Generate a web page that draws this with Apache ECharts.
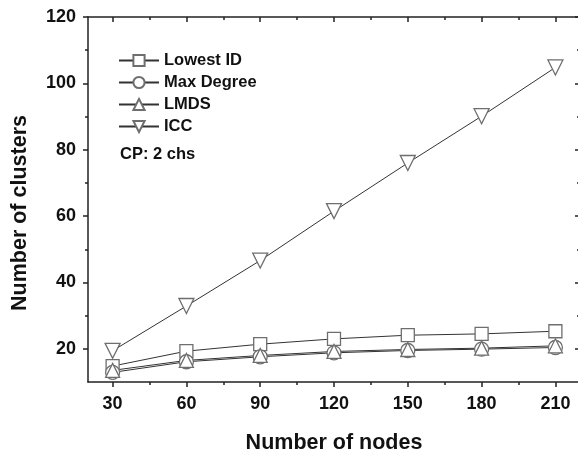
<!DOCTYPE html>
<html>
<head>
<meta charset="utf-8">
<script src="https://cdn.jsdelivr.net/npm/echarts@6/dist/echarts.min.js"></script>
<style>
  html, body { margin: 0; padding: 0; background: #fff; }
  #chart { width: 578px; height: 456px; }
</style>
</head>
<body>
<div id="chart"></div>
<script>
// Number of clusters formed versus network size, CP: 2 channels
const nodes = [30, 60, 90, 120, 150, 180, 210];
const lowestId = [14.8, 19.3, 21.4, 23.0, 24.1, 24.5, 25.3];
const maxDegree = [12.9, 16.1, 17.6, 18.8, 19.5, 19.9, 20.4];
const lmds = [13.5, 16.5, 18.0, 19.2, 19.8, 20.2, 20.9];
const icc = [19.4, 32.9, 46.6, 61.5, 76.0, 90.1, 104.8];

const xMajor = [30, 60, 90, 120, 150, 180, 210];
const xMinor = [45, 75, 105, 135, 165, 195];
const yMajor = [20, 40, 60, 80, 100, 120];
const yMinor = [30, 50, 70, 90, 110];

const X_MIN = 20, X_MAX = 220, Y_MIN = 10, Y_MAX = 120;
const FONT = 'Liberation Sans, Arial, sans-serif';
const TEXT = '#111';
const AXIS_COLOR = '#222';

function pairs(ys) { return nodes.map((x, i) => [x, ys[i]]); }

function xAx(pos, ticks, len, inside, opts) {
  return Object.assign({
    type: 'value', position: pos, min: X_MIN, max: X_MAX,
    axisLine: { show: true, onZero: false, lineStyle: { color: AXIS_COLOR, width: 1.5 } },
    axisTick: { show: true, inside: inside, length: len, customValues: ticks,
      lineStyle: { color: AXIS_COLOR, width: 1.5 } },
    axisLabel: { show: false },
    splitLine: { show: false }
  }, opts || {});
}
function yAx(pos, ticks, len, inside, opts) {
  return Object.assign({
    type: 'value', position: pos, min: Y_MIN, max: Y_MAX,
    axisLine: { show: true, onZero: false, lineStyle: { color: AXIS_COLOR, width: 1.5 } },
    axisTick: { show: true, inside: inside, length: len, customValues: ticks,
      lineStyle: { color: AXIS_COLOR, width: 1.5 } },
    axisLabel: { show: false },
    splitLine: { show: false }
  }, opts || {});
}

const markerStyle = { color: '#fff', borderColor: '#6e6e6e', borderWidth: 1.3 };
const lineStyle = { color: '#333', width: 1 };

function series(name, ys, symbol, size, rotate) {
  return {
    name: name, type: 'line', data: pairs(ys),
    xAxisIndex: 0, yAxisIndex: 0,
    symbol: symbol, symbolSize: size, symbolRotate: rotate || 0,
    showAllSymbol: true,
    itemStyle: markerStyle, lineStyle: lineStyle,
    emphasis: { disabled: true }, animation: false
  };
}

const chart = echarts.init(document.getElementById('chart'));
chart.setOption({
  animation: false,
  grid: { left: 88, top: 17, width: 492, height: 365, containLabel: false,
    outerBoundsMode: 'none' },
  legend: {
    orient: 'vertical', left: 113, top: 47, itemGap: 5,
    itemWidth: 40, itemHeight: 14,
    textStyle: { fontFamily: FONT, fontSize: 16.5, fontWeight: 'bold', color: TEXT },
    data: ['Lowest ID', 'Max Degree', 'LMDS', 'ICC']
  },
  graphic: [{
    type: 'text', left: 120, top: 146,
    style: { text: 'CP: 2 chs', font: 'bold 16.5px ' + FONT, fill: TEXT }
  }, {
    // y-axis title, drawn rotated
    type: 'text', x: 20, y: 213, rotation: Math.PI / 2,
    style: { text: 'Number of clusters', font: 'bold 21.5px ' + FONT, fill: TEXT,
      align: 'center', verticalAlign: 'middle' }
  }],
  xAxis: [
    xAx('bottom', xMajor, 5, false, {
      name: 'Number of nodes', nameLocation: 'middle', nameGap: 50,
      nameTextStyle: { fontFamily: FONT, fontSize: 21.5, fontWeight: 'bold', color: TEXT },
      axisLabel: { show: true, customValues: xMajor, margin: 13,
        fontFamily: FONT, fontSize: 18, fontWeight: 'bold', color: TEXT }
    }),
    xAx('bottom', xMinor, 3, false, { axisLine: { show: false } }),
    xAx('top', xMajor, 5, true),
    xAx('top', xMinor, 3, true, { axisLine: { show: false } })
  ],
  yAxis: [
    yAx('left', yMajor, 5, false, {
      axisLabel: { show: true, customValues: yMajor, margin: 12,
        fontFamily: FONT, fontSize: 18, fontWeight: 'bold', color: TEXT }
    }),
    yAx('left', yMinor, 3, false, { axisLine: { show: false } }),
    yAx('right', yMajor, 5, true),
    yAx('right', yMinor, 3, true, { axisLine: { show: false } })
  ],
  series: [
    series('Lowest ID', lowestId, 'rect', 13),
    series('Max Degree', maxDegree, 'circle', 14),
    series('LMDS', lmds, 'triangle', 14),
    series('ICC', icc, 'triangle', 15, 180)
  ]
});
</script>
</body>
</html>
